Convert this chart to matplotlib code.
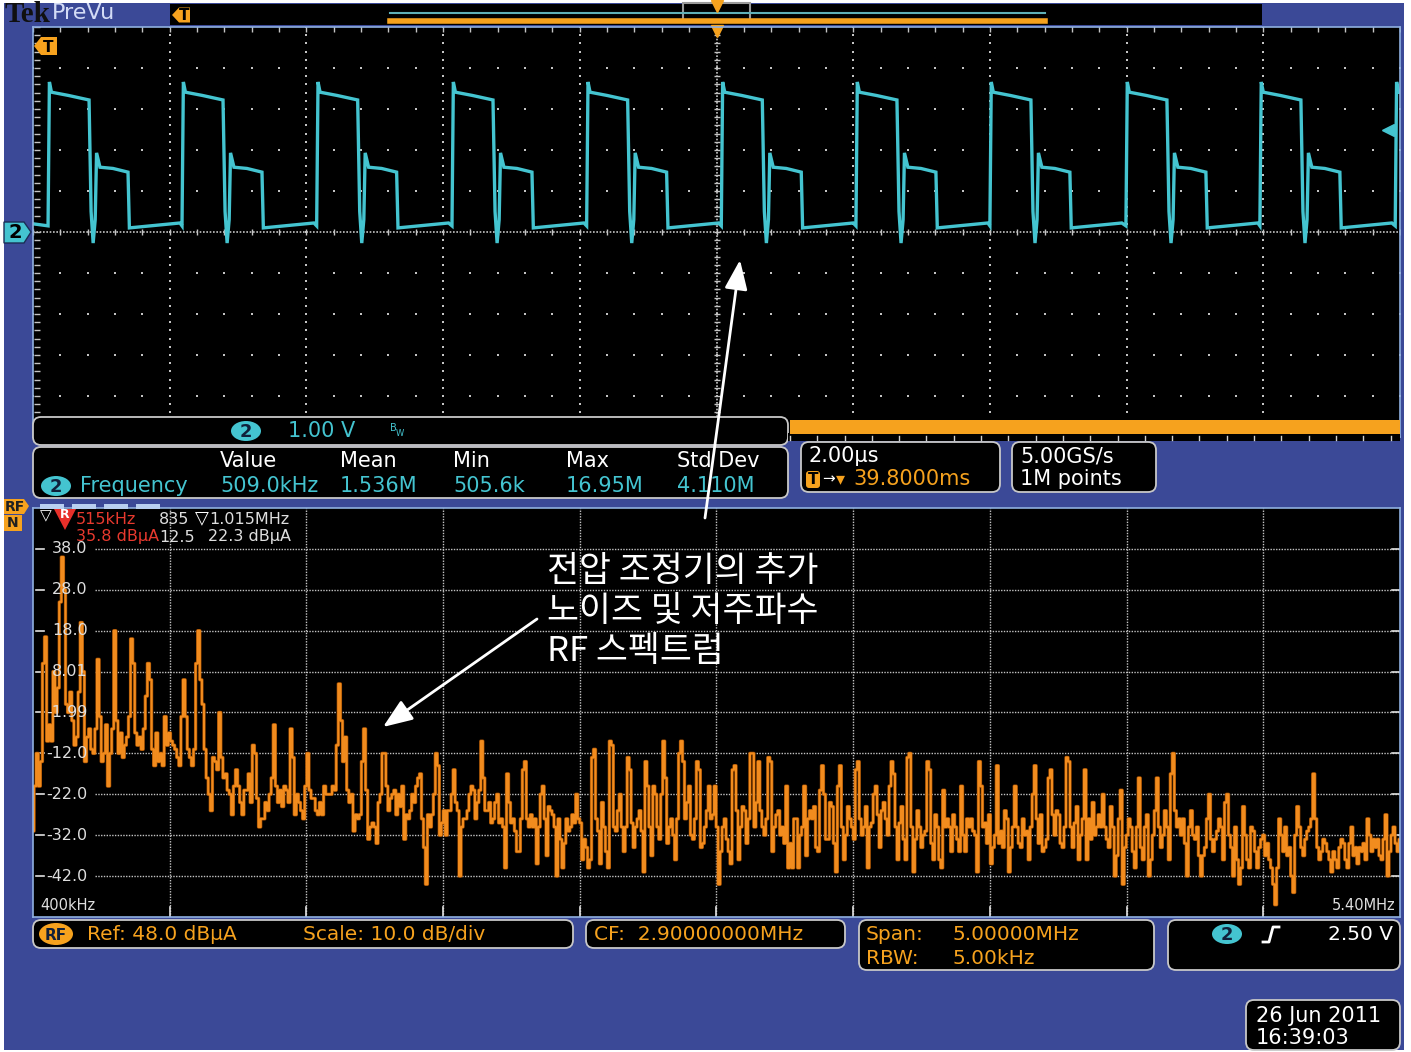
import matplotlib
matplotlib.use('Agg')
import matplotlib.pyplot as plt
import matplotlib.patheffects as pe
import matplotlib.transforms as mtransforms
from matplotlib.patches import FancyBboxPatch, Rectangle, Polygon, Ellipse
import numpy as np

plt.rcParams['font.family'] = ['Liberation Sans Narrow', 'DejaVu Sans']

# ---- data ----
# channel 2 waveform: rising edge times (us) and one cycle shape (offset us, volts)
rise_times = [0.22, 2.18, 4.15, 6.13, 8.10, 10.07, 12.04, 14.00, 15.99, 17.95, 19.93]
cycle_dt = [0.00, 0.02, 0.05, 0.30, 0.60, 0.63, 0.66, 0.69, 0.71, 0.76, 0.95, 1.17, 1.19, 1.93]
cycle_v = [0.15, 3.66, 3.41, 3.33, 3.22, 0.50, -0.27, 0.30, 1.93, 1.58, 1.55, 1.46, 0.10, 0.22]
start_v = 0.20

# RF spectrum (dBuA), four consecutive pieces of the 400kHz..5.40MHz span
seg_edges = [0.4, 1.651, 2.895, 4.138, 5.4]
seg1_db = [-31, -20, -12, -20, -14, 10, 16.5, -9, -5, -9, 8, -2, 4, 25, 36, 28, 0, -2, 3, -4,
           -10, -8, 3, 20, 8, -14, -8, -6, -11, -12, -6, 11, -3, -14, -12, -5, -20, -12, -6, 18,
           -4, -12, -7, -13, -10, -8, -3, 16, 10, -7, -10, -8, -11, -6, 2, 10, 6, -11, -15, -7,
           -14, -12, -15, -3, -10, -7, -9, -10, -11, -13, -15, -3, 6, -3, -11, -13, -15, -11, 10, 18,
           6, 0, -11, -18, -22, -26, -13, -14, -16, -2, -13, -18, -17, -21, -22, -27, -20, -16, -20, -24,
           -27, -21, -21, -17, -24, -10, -12, -23, -30, -28, -28, -24, -26, -22, -18, -5, -20, -24, -21, -25,
           -20, -21, -24, -6, -13, -27, -22, -24, -26, -28, -20, -12, -21, -23, -23, -26, -27, -24, -27, -20,
           -22, -22, -22, -20, -21, -10, 5, -4, -14, -8, -21, -24, -22, -31, -27, -28, -27, -14, -6, -21,
           -33, -30, -29]
seg2_db = [-30, -34, -24, -22, -12, -12, -20, -26, -23, -22, -21, -27, -22, -25, -20, -33, -27, -28, -26, -22,
           -24, -20, -18, -17, -28, -35, -44, -27, -30, -27, -22, -12, -15, -32, -29, -26, -32, -26, -26, -22,
           -16, -24, -26, -42, -30, -28, -28, -26, -22, -20, -21, -28, -24, -21, -9, -18, -26, -26, -24, -29,
           -28, -24, -22, -29, -28, -30, -40, -17, -24, -29, -28, -31, -36, -36, -28, -16, -14, -28, -30, -27,
           -30, -28, -39, -30, -22, -20, -28, -37, -25, -26, -27, -30, -42, -28, -33, -40, -34, -28, -31, -30,
           -27, -29, -22, -28, -29, -38, -33, -35, -40, -38, -13, -11, -28, -31, -39, -24, -30, -36, -40, -9,
           -10, -30, -31, -26, -22, -30, -36, -30, -13, -16, -29, -35, -30, -28, -26, -31, -41, -14, -20, -30,
           -37, -20, -22, -30, -33, -22, -9, -18, -34, -30, -28, -32, -38, -28, -12, -9, -14, -28, -24, -20,
           -32, -33, -28, -14, -16, -35, -34, -30, -26, -20, -28, -27]
seg3_db = [-20, -30, -44, -36, -30, -28, -33, -36, -39, -16, -15, -26, -38, -30, -25, -26, -34, -28, -12, -12,
           -30, -24, -14, -26, -30, -32, -28, -13, -14, -36, -30, -27, -26, -32, -30, -34, -20, -40, -34, -40,
           -28, -28, -40, -32, -30, -20, -37, -28, -26, -28, -25, -35, -36, -21, -15, -22, -33, -33, -24, -25,
           -34, -41, -20, -15, -30, -38, -32, -25, -28, -30, -33, -16, -14, -28, -32, -30, -25, -40, -30, -29,
           -22, -20, -27, -35, -26, -24, -28, -32, -20, -14, -17, -30, -38, -29, -25, -33, -38, -13, -12, -30,
           -41, -33, -26, -30, -35, -32, -31, -14, -16, -34, -38, -27, -30, -38, -40, -21, -30, -28, -30, -36,
           -27, -30, -33, -36, -20, -32, -36, -28, -30, -28, -31, -32, -41, -14, -20, -30, -29, -34, -27, -39,
           -35, -32, -15, -34, -31, -35, -26, -28, -41, -35, -30, -20, -30, -34, -35, -28, -32, -31, -38, -30,
           -22, -15, -28, -34, -27, -36, -35, -33, -18, -16, -27]
seg4_db = [-32, -26, -27, -34, -35, -30, -13, -14, -30, -35, -29, -25, -38, -32, -28, -16, -38, -28, -33, -24,
           -32, -30, -27, -30, -22, -30, -33, -35, -25, -30, -42, -37, -28, -21, -44, -35, -32, -28, -30, -36,
           -40, -30, -18, -35, -38, -30, -27, -42, -38, -32, -26, -18, -30, -35, -32, -26, -30, -38, -17, -12,
           -26, -30, -28, -32, -28, -34, -42, -30, -26, -32, -33, -30, -37, -42, -37, -35, -28, -22, -33, -36,
           -33, -31, -28, -30, -38, -24, -22, -32, -35, -42, -30, -38, -44, -40, -25, -32, -38, -40, -30, -31,
           -36, -40, -35, -33, -32, -37, -34, -38, -40, -44, -49, -40, -28, -32, -36, -30, -37, -35, -42, -46,
           -32, -25, -30, -35, -37, -33, -31, -30, -28, -17, -28, -35, -38, -36, -33, -34, -36, -38, -41, -36,
           -38, -40, -35, -33, -34, -38, -40, -34, -30, -37, -35, -39, -35, -36, -34, -38, -28, -32, -36, -33,
           -35, -33, -37, -38, -33, -27, -42, -36, -32, -30, -34, -36, -33]
db_ticks = [38.0, 28.0, 18.0, 8.01, -1.99, -12.0, -22.0, -32.0, -42.0]
db_tick_labels = ['38.0', '28.0', '18.0', '8.01', '-1.99', '-12.0', '-22.0', '-32.0', '-42.0']

meas_heads = ['Value', 'Mean', 'Min', 'Max', 'Std Dev']
meas_vals = ['509.0kHz', '1.536M', '505.6k', '16.95M', '4.110M']
note_lines = ['전압 조정기의 추가', '노이즈 및 저주파수', 'RF 스펙트럼']

# ---- colours ----
W, H = 1411, 1052
BLUE = '#3b4997'
CYAN = '#44c4d0'
ORANGE = '#f6a21e'
TRACE_OR = '#f28c1e'
GRID = '#c4c4c4'
BORDER = '#c8c8c8'

fig = plt.figure(figsize=(W / 100, H / 100), dpi=100, facecolor='white')


def px_axes(x0, y0, x1, y1, **kw):
    return fig.add_axes([x0 / W, 1 - y1 / H, (x1 - x0) / W, (y1 - y0) / H], **kw)


# background layer
bg = px_axes(0, 0, W, H)
bg.set_xlim(0, W)
bg.set_ylim(H, 0)
bg.axis('off')
bg.add_patch(Rectangle((4, 3), 1400, 1047, fc=BLUE, ec='none'))
bg.add_patch(Rectangle((170, 4), 1092, 21, fc='black', ec='none'))

# ---- waveform pane ----
ax1 = px_axes(33, 27, 1400, 437)
ax1.set_facecolor('black')
ax1.set_xlim(0, 20)
ax1.set_ylim(-5, 5)
ax1.set_xticks([])
ax1.set_yticks([])
for s in ax1.spines.values():
    s.set_color('#8fb0e0')
    s.set_linewidth(1.2)

yy = np.arange(-5, 5.001, 0.2)
xx = np.arange(0, 20.001, 0.4)
for gx in [2, 4, 6, 8, 12, 14, 16, 18]:
    ax1.scatter(np.full(len(yy), gx), yy, s=2.5, marker='s', color=GRID, linewidths=0)
for gy in [-4, -3, -2, -1, 1, 2, 3, 4]:
    ax1.scatter(xx, np.full(len(xx), gy), s=2.5, marker='s', color=GRID, linewidths=0)
ax1.axvline(10, color=GRID, lw=1.2, ls=(0, (1, 1)))
ax1.axhline(0, color=GRID, lw=1.2, ls=(0, (1, 1)))
ax1.scatter(np.full(len(yy), 10), yy, s=25, marker='_', color=GRID, linewidths=1)
ax1.scatter(xx, np.zeros(len(xx)), s=25, marker='|', color=GRID, linewidths=1)
ax1.scatter(np.full(len(yy), 0.06), yy, s=25, marker='_', color=GRID, linewidths=1)
ax1.scatter(xx, np.full(len(xx), 4.94), s=25, marker='|', color=GRID, linewidths=1)

wave_t = [0.0]
wave_v = [start_v]
for r in rise_times:
    wave_t += [r + d for d in cycle_dt]
    wave_v += cycle_v
ax1.plot(wave_t, wave_v, color=CYAN, lw=2.4, solid_joinstyle='miter')
ax1.plot([10], [4.9], marker='v', color=ORANGE, ms=9, clip_on=False)
ax1.plot([19.82], [2.5], marker='<', color=CYAN, ms=9, clip_on=False)

# ---- spectrum pane ----
ax2 = px_axes(33, 508, 1400, 917)
ax2.set_facecolor('black')
ax2.set_xlim(0.4, 5.4)
ax2.set_ylim(-52, 48)
ax2.set_xticks([])
ax2.set_yticks([])
for s in ax2.spines.values():
    s.set_color('#8fb0e0')
    s.set_linewidth(1.2)

for gx in np.arange(0.9, 5.0, 0.5):
    ax2.axvline(gx, color=GRID, lw=1.0, ls=(0, (1, 1)))
    ax2.plot([gx, gx], [-52, -49.5], color='#e0e0e0', lw=1.2)
for gy, lab in zip(db_ticks, db_tick_labels):
    ax2.plot([0.627, 5.4], [gy, gy], color=GRID, lw=1.0, ls=(0, (1, 1)))
    ax2.plot([0.411, 0.44], [gy, gy], color='#e0e0e0', lw=1.2)
    ax2.plot([5.37, 5.4], [gy, gy], color='#e0e0e0', lw=1.2)

spec_f = []
spec_db = []
for i, seg in enumerate([seg1_db, seg2_db, seg3_db, seg4_db]):
    spec_f += list(np.linspace(seg_edges[i], seg_edges[i + 1], len(seg), endpoint=(i == 3)))
    spec_db += seg
ax2.plot(spec_f, spec_db, drawstyle='steps-mid', color=TRACE_OR, lw=1.5,
         path_effects=[pe.Stroke(linewidth=2.4, foreground='#9a4a00'), pe.Normal()])

tr = mtransforms.blended_transform_factory(ax2.transAxes, ax2.transData)
for gy, lab in zip(db_ticks, db_tick_labels):
    ax2.text(0.040, gy, lab, transform=tr, ha='right', va='center', color='#dedede', fontsize=11.5)
ax2.text(0.005, 0.01, '400kHz', transform=ax2.transAxes, ha='left', va='bottom', color='#dedede', fontsize=10.5)
ax2.text(0.997, 0.01, '5.40MHz', transform=ax2.transAxes, ha='right', va='bottom', color='#dedede', fontsize=10.5)

# ---- foreground overlay: readouts, boxes, annotation ----
ov = px_axes(0, 0, W, H)
ov.set_xlim(0, W)
ov.set_ylim(H, 0)
ov.axis('off')
ov.patch.set_alpha(0)


def box(x0, y0, x1, y1):
    ov.add_patch(FancyBboxPatch((x0, y0), x1 - x0, y1 - y0, boxstyle='round,pad=0,rounding_size=8',
                                fc='black', ec=BORDER, lw=1.3))


def badge(x, y, label, fc, w=30, h=20, size=13):
    ov.add_patch(Ellipse((x, y), w, h, fc=fc, ec='none'))
    ov.text(x, y + 1, label, ha='center', va='center', fontsize=size, color='#10203a', fontweight='bold')


def txt(x, y, s, color='white', size=15, ha='left', **kw):
    ov.text(x, y, s, ha=ha, va='center', color=color, fontsize=size, **kw)


# title bar
txt(5, 14, 'Tek', color='#101010', size=21, family=['Liberation Serif', 'DejaVu Serif'], fontweight='bold')
txt(52, 13, 'PreVu', color='#d4dcf6', size=16)
ov.plot([390, 1045], [13, 13], color='#5fb0b8', lw=1.5)
ov.plot([390, 1045], [21, 21], color=ORANGE, lw=4)
ov.add_patch(Rectangle((683, 3), 67, 19, fc='none', ec='#9a9a9a', lw=1.5))
ov.plot([717], [6], marker='v', color=ORANGE, ms=8)


def tag_left(x, y, label, w=22, h=18):
    ov.add_patch(Polygon([(x, y), (x + 7, y - h / 2), (x + w, y - h / 2), (x + w, y + h / 2), (x + 7, y + h / 2)],
                         closed=True, fc=ORANGE, ec='none'))
    ov.text(x + w / 2 + 3, y + 1, label, ha='center', va='center', fontsize=11, color='black', fontweight='bold')


tag_left(172, 15, 'T', w=18, h=15)
tag_left(34, 46, 'T', w=23, h=18)

ov.add_patch(Polygon([(4, 222), (24, 222), (31, 232), (24, 243), (4, 243)], closed=True, fc=CYAN, ec='#1b2d55'))
ov.text(15, 233, '2', ha='center', va='center', fontsize=14, color='black', fontweight='bold')

# channel label strip and orange record bar
box(33, 417, 788, 445)
badge(246, 431, '2', CYAN)
txt(288, 431, '1.00 V', color=CYAN, size=15)
txt(390, 428, 'B', color=CYAN, size=7)
txt(396, 433, 'W', color=CYAN, size=6)
ov.add_patch(Rectangle((788, 433), 612, 8, fc='black', ec='none'))
ov.add_patch(Rectangle((790, 420), 610, 14, fc=ORANGE, ec='none'))
for tx in np.arange(790, 1400, 27.3):
    ov.plot([tx, tx], [436, 440], color='#d0d0d0', lw=1)

# measurement table
box(33, 447, 788, 498)
for x, h_, v in zip([220, 340, 453, 566, 677], meas_heads, meas_vals):
    txt(x, 461, h_, size=15)
    txt(x, 486, v, color=CYAN, size=15)
badge(56, 486, '2', CYAN)
txt(80, 486, 'Frequency', color=CYAN, size=15)

# timebase / sampling
box(801, 442, 1000, 492)
txt(808, 456, '2.00µs', size=15)
ov.add_patch(FancyBboxPatch((806, 471), 14, 17, boxstyle='round,pad=0,rounding_size=3', fc=ORANGE, ec='none'))
ov.text(813, 480, 'T', ha='center', va='center', fontsize=11, color='black', fontweight='bold')
txt(822, 479, '→', size=11)
txt(836, 479, '▾', color=ORANGE, size=13)
txt(853, 479, '39.8000ms', color=ORANGE, size=15)
box(1012, 442, 1156, 492)
txt(1020, 456, '5.00GS/s', size=15)
txt(1020, 479, '1M points', size=15)

# RF / N tags on the spectrum pane
ov.add_patch(Polygon([(4, 499), (24, 499), (29, 506), (24, 514), (4, 514)], closed=True, fc=ORANGE, ec='none'))
ov.text(15, 507, 'RF', ha='center', va='center', fontsize=10, color='#202020', fontweight='bold')
ov.add_patch(Rectangle((4, 515), 18, 16, fc=ORANGE, ec='none'))
ov.text(13, 523, 'N', ha='center', va='center', fontsize=10, color='#202020', fontweight='bold')

# marker readouts
for sx in [40, 72, 104, 136]:
    ov.add_patch(Rectangle((sx, 504), 24, 5, fc='#b8cff0', ec='none'))
txt(40, 516, '▽', size=11)
ov.add_patch(Polygon([(54, 509), (76, 509), (65, 530)], closed=True, fc='#e8302a', ec='none'))
ov.text(65, 515, 'R', ha='center', va='center', fontsize=9, color='white', fontweight='bold')
txt(76, 519, '515kHz', color='#e8392e', size=11.5)
txt(76, 537, '35.8 dBµA', color='#e8392e', size=11.5)
txt(159, 519, '835', color='#dedede', size=11.5)
ov.text(159, 537, '12.5', ha='left', va='center', color='#dedede', fontsize=11.5,
        clip_on=True, clip_box=mtransforms.Bbox.from_extents(0, 0, 188 / W * fig.bbox.width, fig.bbox.height))
txt(195, 518, '▽', size=13)
txt(209, 519, '1.015MHz', color='#dedede', size=11.5)
txt(208, 537, '22.3 dBµA', color='#dedede', size=11.5)

# bottom status boxes
box(33, 920, 573, 948)
badge(56, 934, 'RF', ORANGE, w=34, h=22, size=11)
txt(87, 934, 'Ref: 48.0 dBµA', color=ORANGE, size=14.5)
txt(303, 934, 'Scale: 10.0 dB/div', color=ORANGE, size=14.5)
box(586, 920, 845, 948)
txt(594, 934, 'CF:  2.90000000MHz', color=ORANGE, size=14.5)
box(859, 920, 1154, 970)
txt(866, 934, 'Span:', color=ORANGE, size=14.5)
txt(953, 934, '5.00000MHz', color=ORANGE, size=14.5)
txt(866, 958, 'RBW:', color=ORANGE, size=14.5)
txt(953, 958, '5.00kHz', color=ORANGE, size=14.5)
box(1168, 920, 1400, 970)
badge(1227, 934, '2', CYAN)
ov.plot([1263, 1269, 1273, 1279], [942, 942, 927, 927], color='white', lw=2)
txt(1393, 934, '2.50 V', ha='right', size=14.5)

box(1246, 1000, 1400, 1050)
txt(1256, 1016, '26 Jun 2011', size=15)
txt(1256, 1038, '16:39:03', size=15)

# annotation
for i, line in enumerate(note_lines):
    ov.text(547, 571 + 40 * i, line, ha='left', va='center', color='white', fontsize=25,
            family=['Noto Sans CJK KR', 'DejaVu Sans'], zorder=10)
arrow_kw = dict(arrowstyle='-|>,head_length=0.9,head_width=0.35', color='white', lw=2, mutation_scale=20,
                shrinkA=0, shrinkB=0)
ov.annotate('', xy=(740, 260), xytext=(705, 518), arrowprops=arrow_kw, zorder=11)
ov.annotate('', xy=(383, 727), xytext=(537, 619), arrowprops=arrow_kw, zorder=11)

fig.savefig('out.png', dpi=100, facecolor='white')
